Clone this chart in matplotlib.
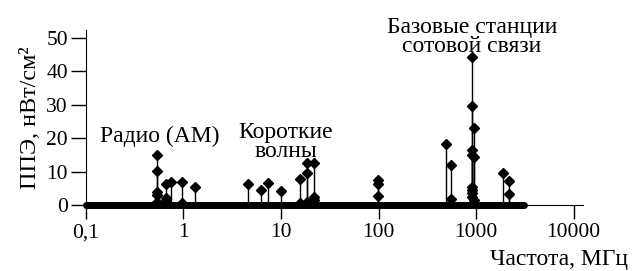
import matplotlib
matplotlib.use('Agg')
import matplotlib.pyplot as plt
import numpy as np

# measured points: frequency (MHz), power flux density (nW/cm2)
freq = [0.54, 0.54, 0.54, 0.54, 0.54,
        0.66, 0.66, 0.66, 0.74, 0.96, 0.96, 1.31,
        4.6, 6.2, 7.4, 10.0,
        15.7, 15.7, 18.4, 18.4, 18.4, 22.0, 22.0, 22.0,
        99.5, 99.5, 99.5,
        489, 550, 550,
        900, 900, 900, 900, 900, 900, 900, 900,
        960, 960, 960,
        1900, 2190, 2190]
pfd = [15.0, 10.2, 3.8, 3.0, 1.0,
       6.2, 2.2, 1.2, 6.8, 6.8, 0.5, 5.5,
       6.2, 4.5, 6.5, 4.2,
       7.8, 0.5, 12.7, 9.5, 0.8, 12.7, 2.5, 1.5,
       7.5, 6.2, 2.7,
       18.3, 12.0, 1.7,
       44.4, 29.6, 16.5, 15.0, 5.5, 4.5, 3.7, 2.5,
       23.1, 14.3, 1.5,
       9.5, 7.2, 3.3]
band_start, band_end = 0.1, 3100

labels = ['Радио (АМ)', 'Короткие\nволны', 'Базовые станции\nсотовой связи']
label_x = [0.57, 11.2, 910]
label_y = [18.9, 14.4, 45.8]

plt.rcParams['font.family'] = ['Liberation Serif', 'DejaVu Serif']
fig = plt.figure(figsize=(6.34, 2.71), dpi=100)
ax = fig.add_axes([0.1356, 0.2435, 0.784, 0.646])

ax.vlines(freq, 0, pfd, color='black', lw=1.0, clip_on=False, zorder=2)
ax.plot(freq, pfd, 'D', color='black', ms=5.5, clip_on=False, zorder=3)
ax.plot([band_start, band_end], [0, 0], color='black', lw=5,
        solid_capstyle='round', clip_on=False, zorder=4)

ax.set_xscale('log')
ax.set_xlim(0.1, 12500)
ax.set_ylim(0, 52.4)
ax.set_xticks([0.1, 1, 10, 100, 1000, 10000])
ax.set_xticklabels(['0,1', '1', '10', '100', '1000', '10000'])
ax.xaxis.set_minor_locator(matplotlib.ticker.NullLocator())
ax.set_yticks([0, 10, 20, 30, 40, 50])
ax.tick_params(axis='both', labelsize=15.5, width=1, color='black')
ax.tick_params(axis='x', length=10, pad=3)
ax.tick_params(axis='y', length=11, pad=2)

for side in ['top', 'right']:
    ax.spines[side].set_visible(False)
ax.spines['left'].set_bounds(0, 52.4)

for txt, x, y in zip(labels, label_x, label_y):
    ax.text(x, y, txt, ha='center', va='baseline', fontsize=17, linespacing=0.85)

ax.set_ylabel('ППЭ, нВт/см²', fontsize=17.5, labelpad=4)
fig.text(0.991, 0.022, 'Частота, МГц', ha='right', va='baseline', fontsize=17)

fig.savefig('out.png', dpi=100)
